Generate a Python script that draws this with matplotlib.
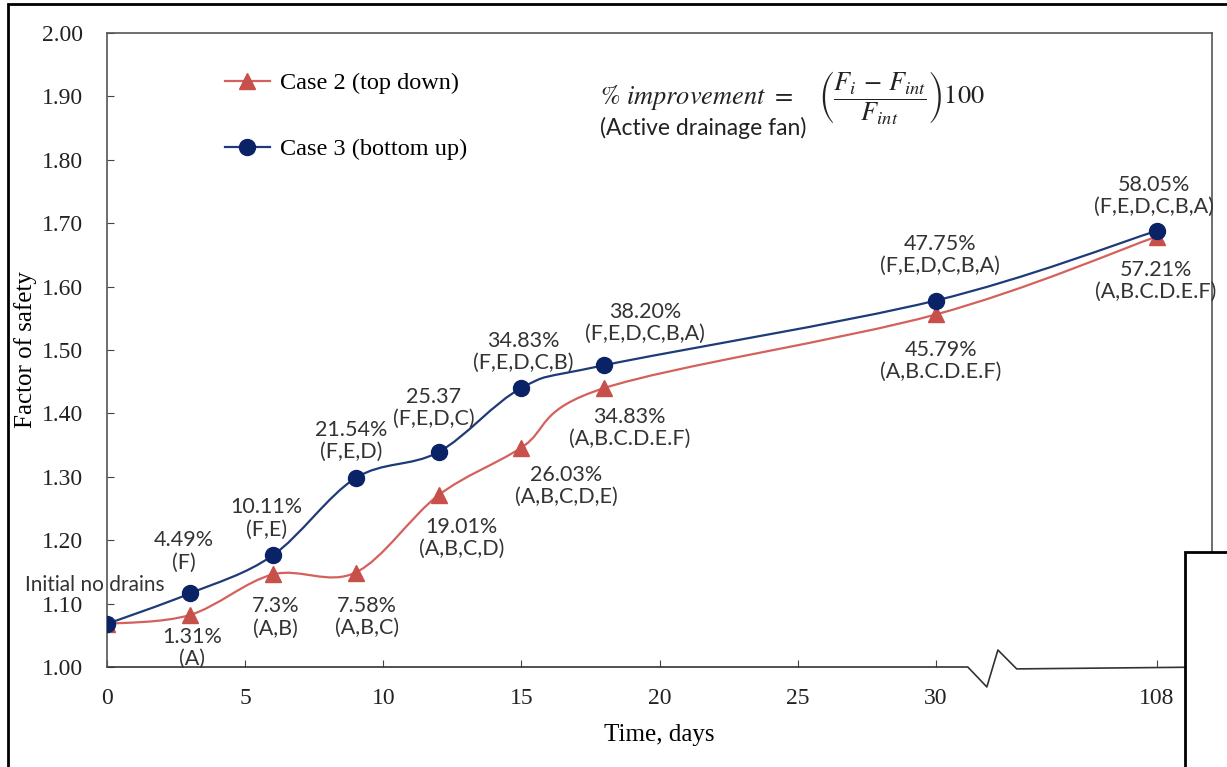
import numpy as np
import matplotlib
matplotlib.use("Agg")
import matplotlib.pyplot as plt
from matplotlib.path import Path
from matplotlib.patches import PathPatch, Rectangle
from matplotlib.lines import Line2D

# data
days = [0, 3, 6, 9, 12, 15, 18, 30, 108]
fos_case2 = [1.068, 1.082, 1.146, 1.149, 1.271, 1.346, 1.440, 1.556, 1.679]
fos_case3 = [1.068, 1.116, 1.176, 1.298, 1.339, 1.440, 1.476, 1.578, 1.688]

labels_case3 = ["", "4.49%\n(F)", "10.11%\n(F,E)", "21.54%\n(F,E,D)", "25.37\n(F,E,D,C)",
                "34.83%\n(F,E,D,C,B)", "38.20%\n(F,E,D,C,B,A)", "47.75%\n(F,E,D,C,B,A)",
                "58.05%\n(F,E,D,C,B,A)"]
labels_case2 = ["", "1.31%\n(A)", "7.3%\n(A,B)", "7.58%\n(A,B,C)", "19.01%\n(A,B,C,D)",
                "26.03%\n(A,B,C,D,E)", "34.83%\n(A,B.C.D.E.F)", "45.79%\n(A,B.C.D.E.F)",
                "57.21%\n(A,B.C.D.E.F)"]

xticks_days = [0, 5, 10, 15, 20, 25, 30, 108]
yticks = [1.0, 1.1, 1.2, 1.3, 1.4, 1.5, 1.6, 1.7, 1.8, 1.9, 2.0]

# label offsets in pixels (layout only)
off3 = [None, (-6, 42), (-6, 37), (-4, 37), (-5, 44), (2, 36), (41, 42), (4, 46), (-3, 35)]
off2 = [None, (2, -33), (3, -43), (11, -44), (23, -43), (45, -38), (25, -40), (5, -46), (-1, -44)]


def brk(d):
    # broken axis: everything past 30 days sits at position 38
    return d if d <= 30 else 38


def smooth_path(x, y):
    p = np.column_stack([x, y])
    n = len(p)
    verts = [p[0]]
    codes = [Path.MOVETO]
    for i in range(n - 1):
        p0 = p[max(i - 1, 0)]
        p1 = p[i]
        p2 = p[i + 1]
        p3 = p[min(i + 2, n - 1)]
        c1 = p1 + (p2 - p0) / 6
        c2 = p2 - (p3 - p1) / 6
        verts += [c1, c2, p2]
        codes += [Path.CURVE4] * 3
    return Path(verts, codes)


red_line, red_mark = "#D4615C", "#C8504B"
blue_line, blue_mark = "#1F3A78", "#0A2266"
serif = "Liberation Serif"
sans = "Lato"
plt.rcParams["mathtext.fontset"] = "stix"

fig = plt.figure(figsize=(12.27, 7.67), dpi=100)
ax = fig.add_axes([107 / 1227, 1 - 667 / 767, (1212 - 107) / 1227, (667 - 33) / 767])

xp = [brk(d) for d in days]
ax.add_patch(PathPatch(smooth_path(xp, fos_case2), fill=False, ec=red_line, lw=1.6, zorder=3))
ax.add_patch(PathPatch(smooth_path(xp, fos_case3), fill=False, ec=blue_line, lw=1.6, zorder=3))
ax.plot(xp, fos_case2, ls="none", marker="^", ms=11, color=red_mark, zorder=4)
ax.plot(xp, fos_case3, ls="none", marker="o", ms=11.5, color=blue_mark, zorder=5)

for x, y, t, o in zip(xp, fos_case3, labels_case3, off3):
    if t:
        ax.annotate(t, (x, y), xytext=o, textcoords="offset pixels", ha="center", va="center",
                    fontsize=15.5, family=sans, color="#333333", linespacing=1.12, zorder=6)
for x, y, t, o in zip(xp, fos_case2, labels_case2, off2):
    if t:
        ax.annotate(t, (x, y), xytext=o, textcoords="offset pixels", ha="center", va="center",
                    fontsize=15.5, family=sans, color="#333333", linespacing=1.12, zorder=6)

ax.annotate("Initial no drains", (xp[0], fos_case3[0]), xytext=(-12, 39), textcoords="offset pixels",
            ha="center", va="center", fontsize=15, family=sans, color="#333333", zorder=6)

ax.set_xlim(0, 40)
ax.set_ylim(1.0, 2.0)
ax.set_xticks([brk(d) for d in xticks_days])
ax.set_xticklabels([str(d) for d in xticks_days], family=serif, fontsize=17)
ax.set_yticks(yticks)
ax.set_yticklabels([f"{v:.2f}" for v in yticks], family=serif, fontsize=17)
ax.tick_params(axis="x", direction="in", length=5, pad=15, colors="#444444", labelcolor="#222222")
ax.tick_params(axis="y", direction="in", length=5, pad=17, colors="#444444", labelcolor="#222222")
ax.set_xlabel("Time, days", family=serif, fontsize=18, labelpad=11)
ax.set_ylabel("Factor of safety", family=serif, fontsize=18, labelpad=4)

for s in ["left", "top", "right"]:
    ax.spines[s].set_color("#555555")
    ax.spines[s].set_linewidth(1.2)
ax.spines["bottom"].set_visible(False)
# bottom axis with a break mark
ax.plot([0, 31.16, 31.85, 32.25, 32.93, 40], [1.0, 1.0, 0.9685, 1.0268, 0.997, 1.0],
        color="#333333", lw=1.2, clip_on=False, zorder=2)

handles = [Line2D([], [], color=red_line, lw=1.6, marker="^", ms=11, mfc=red_mark, mec=red_mark),
           Line2D([], [], color=blue_line, lw=1.6, marker="o", ms=11.5, mfc=blue_mark, mec=blue_mark)]
ax.legend(handles, ["Case 2 (top down)", "Case 3 (bottom up)"], loc="upper left",
          bbox_to_anchor=(0.1068, 0.938), frameon=False, prop={"family": serif, "size": 17.5},
          handlelength=1.85, handletextpad=0.4, labelspacing=1.8, borderpad=0, borderaxespad=0)

fig.text(600 / 1227, 1 - 98 / 767, r"$\%\ improvement\ =$",
         fontsize=19, va="center", ha="left", color="#222222")
fig.text(818 / 1227, 1 - 97 / 767,
         r"$\left(\dfrac{F_i\,-\,F_{int}}{F_{int}}\right)100$",
         fontsize=19, va="center", ha="left", color="#222222")
fig.text(600 / 1227, 1 - 128 / 767, "(Active drainage fan)", family=sans, fontsize=16.5,
         va="center", ha="left", color="#222222")

# outer frame and the overlapping box at bottom right
fig.add_artist(Rectangle((8 / 1227, -0.1), 1.2, 1.1 - 4 / 767, transform=fig.transFigure,
                         fill=False, ec="black", lw=2, zorder=10))
fig.add_artist(Rectangle((1185 / 1227, -0.1), 0.2, 0.1 + 1 - 552 / 767, transform=fig.transFigure,
                         fc="white", ec="black", lw=2, zorder=11))

fig.savefig("out.png", dpi=100)
